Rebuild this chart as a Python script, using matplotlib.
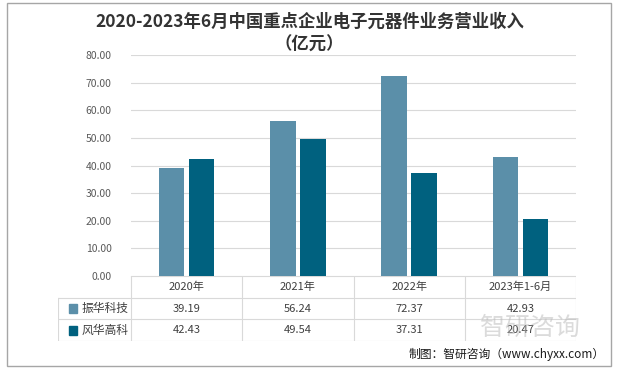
import matplotlib.pyplot as plt
from matplotlib.patches import Rectangle

plt.rcParams['font.family'] = ['Noto Sans CJK SC', 'DejaVu Sans']

# --- data ---
categories = ['2020年', '2021年', '2022年', '2023年1-6月']
series_names = ['振华科技', '风华高科']
zhenhua = [39.19, 56.24, 72.37, 42.93]
fenghua = [42.43, 49.54, 37.31, 20.47]
colors = ['#5B8FA9', '#00617F']

W, H = 619, 377
fig = plt.figure(figsize=(W / 100, H / 100), dpi=100)

def box(x0, y0, x1, y1):
    # pixel box (top-left origin) -> figure fraction rect
    return [x0 / W, 1 - y1 / H, (x1 - x0) / W, (y1 - y0) / H]

# outer border
fig.patches.append(Rectangle((7 / W, 1 - 366 / H), 604 / W, 363 / H, transform=fig.transFigure,
                             fill=False, edgecolor='#A6A6A6', linewidth=1))

fig.text(0.5, 1 - 22 / H, '2020-2023年6月中国重点企业电子元器件业务营业收入',
         ha='center', va='center', fontsize=12.5, fontweight='bold', color='#333333')
fig.text(0.5, 1 - 45 / H, '（亿元）', ha='center', va='center', fontsize=12.5,
         fontweight='bold', color='#333333')

# main chart
ax = fig.add_axes(box(131, 55, 576, 276))
x = list(range(len(categories)))
bw = 0.23
ax.bar([i - bw / 2 - 0.02 for i in x], zhenhua, width=bw, color=colors[0], zorder=3)
ax.bar([i + bw / 2 + 0.02 for i in x], fenghua, width=bw, color=colors[1], zorder=3)
ax.set_xlim(-0.5, 3.5)
ax.set_ylim(0, 80)
ax.set_yticks(range(0, 81, 10))
ax.set_yticklabels([f'{v:.2f}' for v in range(0, 81, 10)], fontsize=7.5, color='#595959')
ax.set_xticks([])
ax.grid(axis='y', color='#D9D9D9', linewidth=0.8, zorder=0)
for s in ax.spines.values():
    s.set_visible(False)
ax.tick_params(axis='y', length=0, pad=14)

# data table below the chart
label_w = 73 / 111.25
tx = fig.add_axes(box(58, 276, 576, 341))
tx.set_xlim(-0.5 - label_w, 3.5)
tx.set_ylim(0, 3)
tx.invert_yaxis()
tx.axis('off')
lc = '#D9D9D9'
x_left = -0.5 - label_w
for yy in [1, 2, 3]:
    tx.plot([x_left, 3.5], [yy, yy], color=lc, linewidth=0.8)
tx.plot([-0.5, 3.5], [0, 0], color=lc, linewidth=0.8)
tx.plot([x_left, x_left], [1, 3], color=lc, linewidth=0.8)
for xx in [-0.5, 0.5, 1.5, 2.5, 3.5]:
    tx.plot([xx, xx], [0, 3], color=lc, linewidth=0.8)

for i, c in enumerate(categories):
    tx.text(i, 0.5, c, ha='center', va='center', fontsize=8, color='#404040')
for r, (name, vals) in enumerate(zip(series_names, [zhenhua, fenghua])):
    yy = r + 1.5
    tx.add_patch(Rectangle((x_left + 0.1, yy - 0.2), 0.07, 0.4, color=colors[r]))
    tx.text(x_left + 0.21, yy, name, ha='left', va='center', fontsize=8.5, color='#404040')
    for i, v in enumerate(vals):
        tx.text(i, yy, f'{v:.2f}', ha='center', va='center', fontsize=8, color='#404040')

# watermark (faint, sits behind the last table cells as in the source)
fig.text(530 / W, 1 - 328 / H, '智研咨询', ha='center', va='center', fontsize=18,
         color='#B8B8B8', alpha=0.5, zorder=0)

fig.text(605 / W, 1 - 354 / H, '制图：智研咨询（www.chyxx.com）', ha='right', va='center',
         fontsize=8.5, color='#1A1A1A')

fig.savefig('out.png', dpi=100)
